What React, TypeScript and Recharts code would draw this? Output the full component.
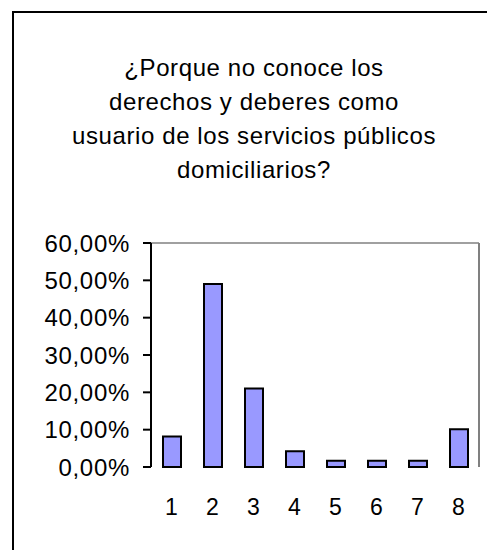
import { BarChart, Bar, XAxis, YAxis, ReferenceLine } from "recharts";

const titleLines = [
  "¿Porque no conoce los",
  "derechos y deberes como",
  "usuario de los servicios públicos",
  "domiciliarios?",
];

const categories = [1, 2, 3, 4, 5, 6, 7, 8];
const values = [8.2, 49.0, 21.0, 4.2, 1.7, 1.7, 1.7, 10.1];
const yTicks = [0, 10, 20, 30, 40, 50, 60];
const edgeTicks = [0.5, 1.5, 2.5, 3.5, 4.5, 5.5, 6.5, 7.5, 8.5];

const data = categories.map((c, i) => ({ q: c, pct: values[i] }));

const fmtPct = (v: number) => `${v.toFixed(2).replace(".", ",")}%`;

export default function App() {
  return (
    <div
      style={{
        position: "absolute",
        left: 0,
        top: 0,
        width: 487,
        height: 550,
        overflow: "hidden",
        background: "#fff",
        fontFamily: '"Liberation Sans", Arial, sans-serif',
      }}
    >
      <div
        style={{
          position: "absolute",
          left: 12,
          top: 11,
          width: 487,
          height: 550,
          borderLeft: "2px solid #000",
          borderTop: "2px solid #000",
        }}
      />
      <div
        style={{
          position: "absolute",
          left: 20,
          top: 51,
          width: 468,
          textAlign: "center",
          fontSize: 24,
          lineHeight: "34px",
          letterSpacing: 0.6,
          color: "#000",
        }}
      >
        {titleLines.map((l) => (
          <div key={l}>{l}</div>
        ))}
      </div>
      <div style={{ position: "absolute", left: 0, top: 0 }}>
        <BarChart
          width={487}
          height={550}
          data={data}
          margin={{ top: 243, right: 8, left: 0, bottom: 43 }}
        >
          <XAxis
            xAxisId={0}
            dataKey="q"
            type="number"
            domain={[0.5, 8.5]}
            ticks={edgeTicks}
            height={0}
            tickSize={8}
            tickFormatter={() => ""}
            stroke="#000"
            strokeWidth={2}
            tickLine={{ stroke: "#000", strokeWidth: 2 }}
          />
          <XAxis
            xAxisId="lab"
            dataKey="q"
            type="number"
            domain={[0.5, 8.5]}
            ticks={categories}
            height={40}
            tickSize={0}
            tickMargin={32}
            axisLine={false}
            tickLine={false}
            tick={{ fontSize: 23, fill: "#000" }}
          />
          <YAxis
            yAxisId={0}
            domain={[0, 60]}
            ticks={yTicks}
            width={151}
            tickSize={8}
            tickMargin={13}
            tickFormatter={fmtPct}
            stroke="#000"
            strokeWidth={2}
            tickLine={{ stroke: "#000", strokeWidth: 2 }}
            tick={{ fontSize: 24, fill: "#000", letterSpacing: 0.7 }}
          />
          {/* grey plot-area frame, top and right */}
          <ReferenceLine y={60} stroke="#808080" strokeWidth={1.5} ifOverflow="visible" />
          <ReferenceLine x={8.5} stroke="#808080" strokeWidth={2} ifOverflow="visible" />
          <Bar
            dataKey="pct"
            barSize={18}
            fill="#9999FF"
            stroke="#000"
            strokeWidth={2}
            isAnimationActive={false}
          />
        </BarChart>
      </div>
    </div>
  );
}
